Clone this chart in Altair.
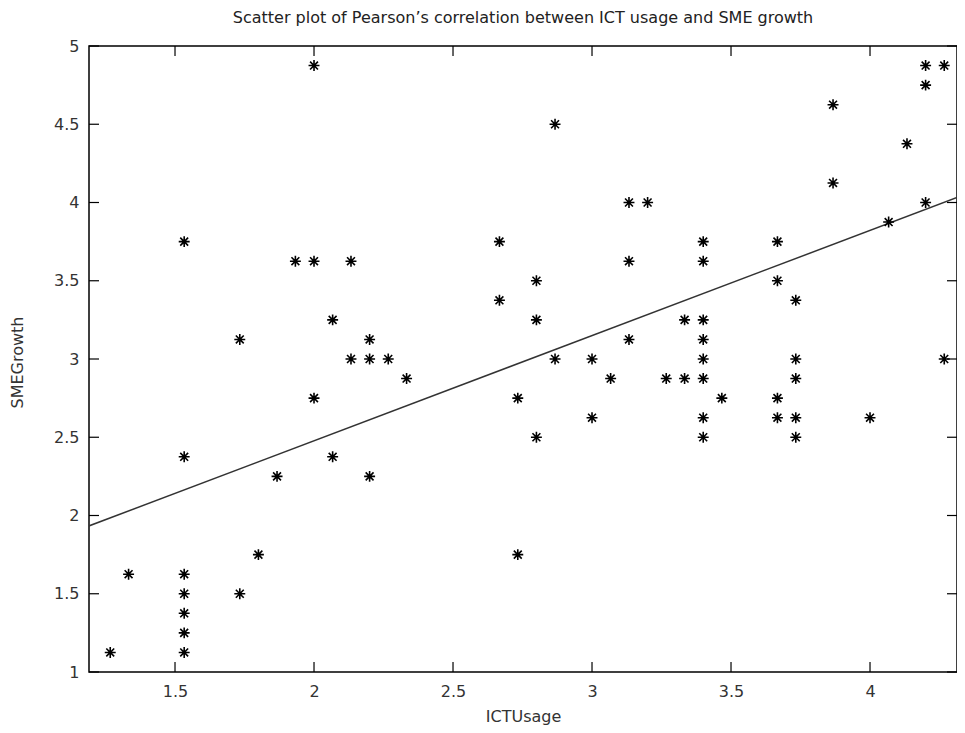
import altair as alt
import pandas as pd

# ---- data ----
ict_usage = [
    1.267, 1.333, 1.533, 1.533, 1.533, 1.533, 1.533, 1.733, 1.8,
    1.533, 1.933, 2.0, 2.133, 2.067, 1.733, 2.2, 2.133, 2.2, 2.267, 2.333,
    2.0, 1.533, 1.867, 2.067, 2.2, 2.0,
    3.133, 3.2, 2.667, 3.4, 3.667, 3.133, 3.4, 2.8, 3.667, 3.733, 2.667,
    2.8, 3.333, 3.4, 3.133, 3.4, 2.867, 3.0, 3.4, 3.733, 3.067, 3.267,
    3.333, 3.4, 3.733, 2.733, 3.467, 3.667, 3.0, 3.4, 3.667, 3.733,
    2.8, 3.4, 3.733, 2.733, 2.867,
    4.2, 4.267, 4.2, 3.867, 4.133, 3.867, 4.2, 4.067, 4.267, 4.0,
]
sme_growth = [
    1.125, 1.625, 1.625, 1.5, 1.375, 1.25, 1.125, 1.5, 1.75,
    3.75, 3.625, 3.625, 3.625, 3.25, 3.125, 3.125, 3.0, 3.0, 3.0, 2.875,
    2.75, 2.375, 2.25, 2.375, 2.25, 4.875,
    4.0, 4.0, 3.75, 3.75, 3.75, 3.625, 3.625, 3.5, 3.5, 3.375, 3.375,
    3.25, 3.25, 3.25, 3.125, 3.125, 3.0, 3.0, 3.0, 3.0, 2.875, 2.875,
    2.875, 2.875, 2.875, 2.75, 2.75, 2.75, 2.625, 2.625, 2.625, 2.625,
    2.5, 2.5, 2.5, 1.75, 4.5,
    4.875, 4.875, 4.75, 4.625, 4.375, 4.125, 4.0, 3.875, 3.0, 2.625,
]
fit_x = [1.19, 4.313]
fit_y = [1.933, 4.032]
x_ticks = [1.5, 2.0, 2.5, 3.0, 3.5, 4.0]
y_ticks = [1.0, 1.5, 2.0, 2.5, 3.0, 3.5, 4.0, 4.5, 5.0]

W, H = 868, 626
FONT = "DejaVu Sans"
FS = 16
TXT = "#333333"

pts = pd.DataFrame({"x": ict_usage, "y": sme_growth})
fit = pd.DataFrame({"x": fit_x, "y": fit_y})
xt = pd.DataFrame({"x": x_ticks})
yt = pd.DataFrame({"y": y_ticks})

xscale = alt.Scale(domain=[1.1906, 4.3129], nice=False, zero=False)
yscale = alt.Scale(domain=[1, 5], nice=False, zero=False)

xaxis = alt.Axis(values=x_ticks, format="~g", tickSize=0, domain=False, grid=False,
                 labelPadding=11, labelFontSize=FS, labelFont=FONT,
                 labelColor=TXT, title="ICTUsage", titleFont=FONT,
                 titleFontSize=FS, titleFontWeight="normal", titleColor=TXT,
                 titleY=49, titleBaseline="alphabetic", labelFlush=False)
yaxis = alt.Axis(values=y_ticks, format="~g", tickSize=0, domain=False, grid=False,
                 labelPadding=10, labelFontSize=FS, labelFont=FONT,
                 labelColor=TXT, title="SMEGrowth", titleFont=FONT,
                 titleFontSize=FS, titleFontWeight="normal", titleColor=TXT,
                 titleX=-72, titleY=316, titleAngle=270, titleBaseline="middle",
                 titleAlign="center", labelFlush=False)

X = lambda f: alt.X(f, type="quantitative", scale=xscale, axis=xaxis)
Y = lambda f: alt.Y(f, type="quantitative", scale=yscale, axis=yaxis)

star = "M-1,0H1M0,-1V1M-0.72,-0.72L0.72,0.72M-0.72,0.72L0.72,-0.72"

points = alt.Chart(pts).mark_point(shape=star, filled=False, stroke="black",
                                   strokeWidth=1.6, size=120, opacity=1).encode(
    x=X("x"), y=Y("y"))

line = alt.Chart(fit).mark_line(color="#333333", strokeWidth=1.5, clip=True).encode(
    x=X("x"), y=Y("y"))

xt_bottom = alt.Chart(xt).mark_rule(color="black", strokeWidth=1.2).encode(
    x=X("x"), y=alt.value(H), y2=alt.value(H - 10))
xt_top = alt.Chart(xt).mark_rule(color="black", strokeWidth=1.2).encode(
    x=X("x"), y=alt.value(0), y2=alt.value(10))
yt_left = alt.Chart(yt).mark_rule(color="black", strokeWidth=1.2).encode(
    y=Y("y"), x=alt.value(0), x2=alt.value(10))
yt_right = alt.Chart(yt).mark_rule(color="black", strokeWidth=1.2).encode(
    y=Y("y"), x=alt.value(W), x2=alt.value(W - 10))

chart = alt.layer(line, xt_bottom, xt_top, yt_left, yt_right, points).properties(
    width=W, height=H,
    background="white",
    title=alt.TitleParams(
        "Scatter plot of Pearson\u2019s correlation between ICT usage and SME growth",
        font=FONT, fontSize=16, fontWeight="normal", color="#222222",
        anchor="middle", offset=12),
    autosize=alt.AutoSizeParams(type="none"),
    padding={"left": 81, "top": 38, "right": 0, "bottom": 53},
).configure_view(stroke="black", strokeWidth=1.5)

chart.save("out.html", embed_options={"renderer": "svg", "actions": False})
